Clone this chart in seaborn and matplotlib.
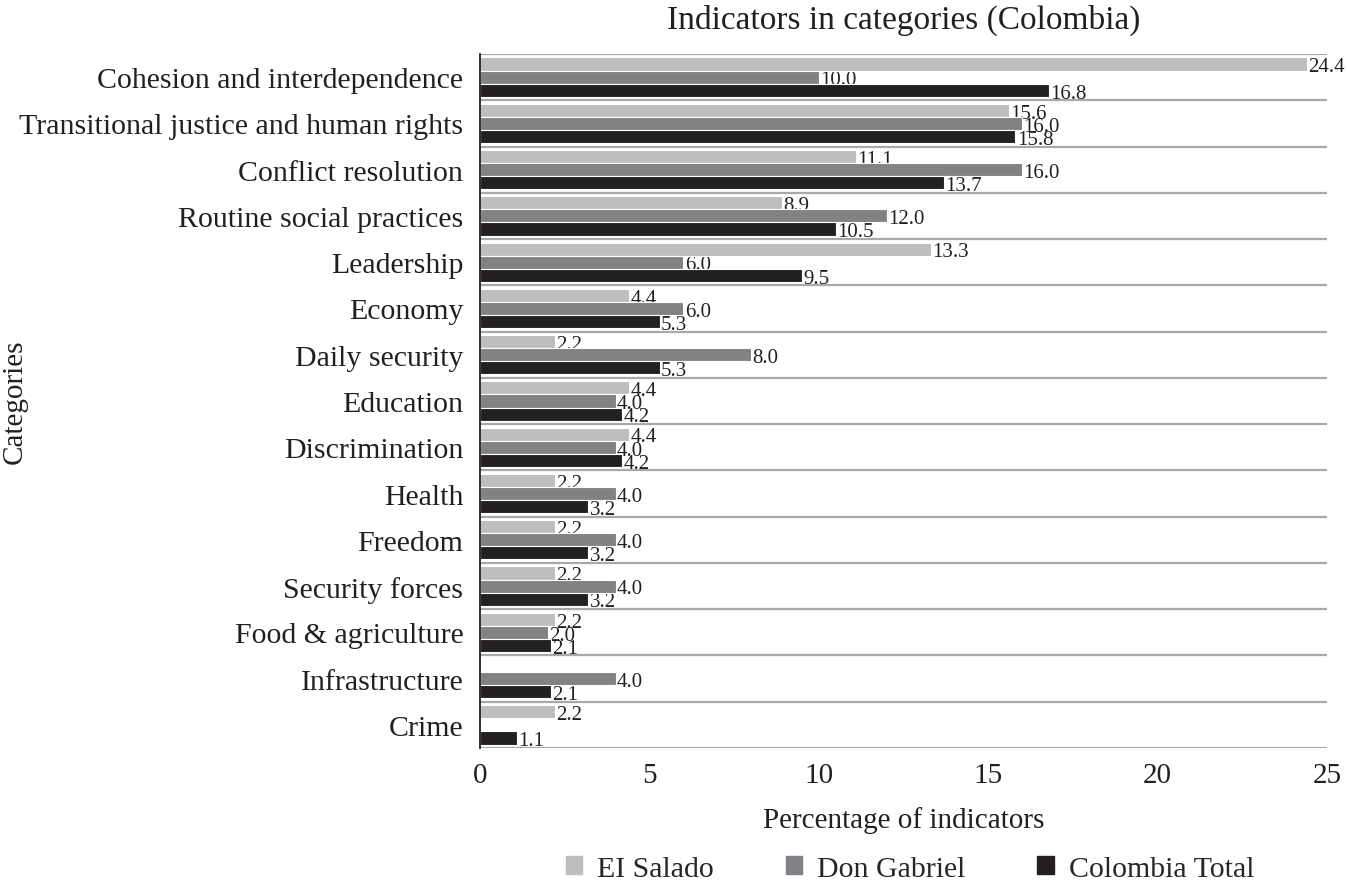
import numpy as np
import pandas as pd
import seaborn as sns
import matplotlib.pyplot as plt

categories = ["Cohesion and interdependence", "Transitional justice and human rights",
              "Conflict resolution", "Routine social practices", "Leadership", "Economy",
              "Daily security", "Education", "Discrimination", "Health", "Freedom",
              "Security forces", "Food & agriculture", "Infrastructure", "Crime"]
series = ["EI Salado", "Don Gabriel", "Colombia Total"]
el_salado = [24.4, 15.6, 11.1, 8.9, 13.3, 4.4, 2.2, 4.4, 4.4, 2.2, 2.2, 2.2, 2.2, 0.0, 2.2]
don_gabriel = [10.0, 16.0, 16.0, 12.0, 6.0, 6.0, 8.0, 4.0, 4.0, 4.0, 4.0, 4.0, 2.0, 4.0, 0.0]
colombia_total = [16.8, 15.8, 13.7, 10.5, 9.5, 5.3, 5.3, 4.2, 4.2, 3.2, 3.2, 3.2, 2.1, 2.1, 1.1]
colors = ["#bcbec0", "#808285", "#231f20"]

df = pd.DataFrame({
    "Category": categories * 3,
    "Series": np.repeat(series, len(categories)),
    "Value": el_salado + don_gabriel + colombia_total,
})

sns.set_style("white")
plt.rcParams["font.family"] = ["Liberation Serif", "DejaVu Serif"]
ink = "#231f20"

fig = plt.figure(figsize=(13.48, 8.87), dpi=100)
ax = fig.add_axes([480 / 1348, 1 - 749 / 887, 847 / 1348, 694 / 887])

sns.barplot(data=df, y="Category", x="Value", hue="Series", order=categories,
            hue_order=series, palette=colors, orient="h", width=0.85,
            edgecolor="white", linewidth=0.8, legend=False, ax=ax, zorder=3)

# value labels (zeros have none), drawn under the bars like the original
for cont in ax.containers:
    for bar in cont:
        w = bar.get_width()
        if w <= 0:
            continue
        ax.annotate(f"{w:.1f}", (w, bar.get_y() + bar.get_height() / 2),
                    xytext=(1, -2), textcoords="offset points",
                    ha="left", va="center", fontsize=15, color=ink, zorder=2)

ax.set_xlim(0, 25)
ax.set_ylim(len(categories) - 0.5, -0.5)
ax.set_xticks([0, 5, 10, 15, 20, 25])
ax.tick_params(axis="x", labelsize=21, length=0, pad=10, colors=ink)
ax.tick_params(axis="y", which="major", labelsize=21.5, length=0, pad=12, colors=ink)

bounds = np.arange(-0.5, len(categories), 1.0)
ax.set_yticks(bounds, minor=True)
ax.tick_params(axis="y", which="minor", length=5, width=1.2, color=ink, direction="out")
for b in bounds:
    ax.axhline(b, color="#a7a9ac", lw=1.6, zorder=1)

for s in ["top", "right", "bottom"]:
    ax.spines[s].set_visible(False)
ax.spines["left"].set_color(ink)
ax.spines["left"].set_linewidth(1.3)
ax.spines["left"].set_zorder(5)

ax.set_title("Indicators in categories (Colombia)", fontsize=24, pad=19, color=ink)
ax.set_xlabel("Percentage of indicators", fontsize=21, labelpad=13, color=ink)
ax.set_ylabel("")
fig.text(15 / 1348, 1 - 402 / 887, "Categories", rotation=90, fontsize=21,
         ha="center", va="center", color=ink)

handles = [plt.Rectangle((0, 0), 1, 1, color=c) for c in colors]
fig.legend(handles, series, loc="center", bbox_to_anchor=(910 / 1348, 1 - 870 / 887),
           ncol=3, frameon=False, fontsize=21.5, handlelength=0.55, handleheight=0.55,
           handletextpad=0.5, columnspacing=2.4)

fig.savefig("out.png", dpi=100)
